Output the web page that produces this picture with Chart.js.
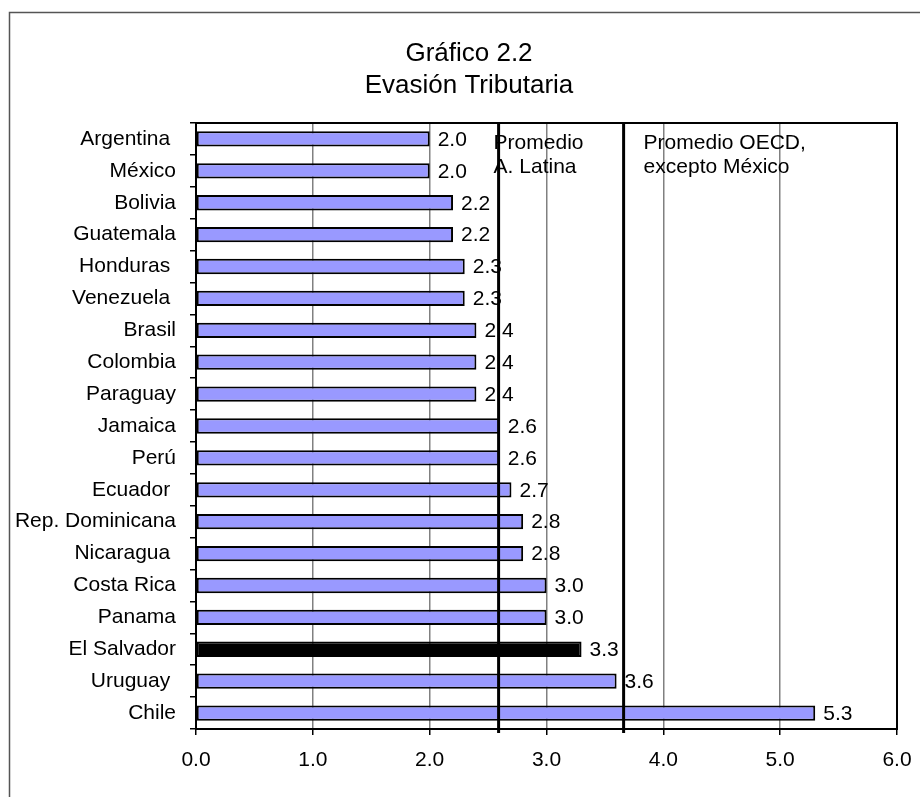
<!DOCTYPE html>
<html>
<head>
<meta charset="utf-8">
<script src="https://cdn.jsdelivr.net/npm/chart.js@4.4.0/dist/chart.umd.min.js"></script>
<style>
  html, body { margin: 0; padding: 0; background: #fff; }
  #wrap { width: 920px; height: 797px; }
</style>
</head>
<body>
<div id="wrap"><canvas id="grafico" width="920" height="797"></canvas></div>
<script>
// datos
const paises = ['Argentina ', 'México', 'Bolivia', 'Guatemala', 'Honduras ', 'Venezuela ', 'Brasil',
  'Colombia', 'Paraguay', 'Jamaica', 'Perú', 'Ecuador ', 'Rep. Dominicana', 'Nicaragua ',
  'Costa Rica', 'Panama', 'El Salvador', 'Uruguay ', 'Chile'];
const evasion = [2.0, 2.0, 2.2, 2.2, 2.3, 2.3, 2.4, 2.4, 2.4, 2.6, 2.6, 2.7, 2.8, 2.8, 3.0, 3.0, 3.3, 3.6, 5.3];
const promedios = [2.59, 3.66];
const promedioTextos = [['Promedio', 'A. Latina'], ['Promedio OECD,', 'excepto México']];
const ticksX = [0, 1, 2, 3, 4, 5, 6];
const titulo = ['Gráfico 2.2', 'Evasión Tributaria'];

const FUENTE = '"Liberation Sans", Arial, sans-serif';

const colores = paises.map(p => p.trim() === 'El Salvador' ? '#000000' : '#9999FF');

// marco, titulo, lineas de promedio y etiquetas de valor
const extras = {
  id: 'extras',
  beforeDraw(chart) {
    const ctx = chart.ctx;
    ctx.save();
    ctx.fillStyle = '#fff';
    ctx.fillRect(0, 0, chart.width, chart.height);
    ctx.strokeStyle = '#555';
    ctx.lineWidth = 1.5;
    ctx.beginPath();
    ctx.moveTo(9.5, chart.height);
    ctx.lineTo(9.5, 12.5);
    ctx.lineTo(chart.width, 12.5);
    ctx.stroke();
    ctx.fillStyle = '#000';
    ctx.font = '26px ' + FUENTE;
    ctx.textAlign = 'center';
    ctx.textBaseline = 'alphabetic';
    ctx.fillText(titulo[0], 469, 61);
    ctx.fillText(titulo[1], 469, 93);
    ctx.restore();
  },
  afterDatasetsDraw(chart) {
    const ctx = chart.ctx;
    const area = chart.chartArea;
    const x = chart.scales.x;
    ctx.save();
    // lineas de promedio
    ctx.strokeStyle = '#000';
    ctx.lineWidth = 3;
    promedios.forEach(v => {
      const px = x.getPixelForValue(v);
      ctx.beginPath();
      ctx.moveTo(px, area.top);
      ctx.lineTo(px, area.bottom + 4);
      ctx.stroke();
    });
    // textos de promedio
    ctx.fillStyle = '#000';
    ctx.font = '21px ' + FUENTE;
    ctx.textBaseline = 'middle';
    ctx.textAlign = 'left';
    ctx.fillText(promedioTextos[0][0], x.getPixelForValue(promedios[0]) - 5, 143);
    ctx.fillText(promedioTextos[0][1], x.getPixelForValue(promedios[0]) - 5, 167);
    ctx.fillText(promedioTextos[1][0], x.getPixelForValue(promedios[1]) + 20, 143);
    ctx.fillText(promedioTextos[1][1], x.getPixelForValue(promedios[1]) + 20, 167);
    // etiquetas de valor
    const meta = chart.getDatasetMeta(0);
    meta.data.forEach((bar, i) => {
      ctx.fillText(evasion[i].toFixed(1), bar.x + 8, bar.y + 1);
    });
    // borde del area
    ctx.lineWidth = 2;
    ctx.strokeRect(area.left, area.top, area.right - area.left, area.bottom - area.top);
    ctx.restore();
  }
};

new Chart(document.getElementById('grafico').getContext('2d'), {
  type: 'bar',
  data: {
    labels: paises,
    datasets: [{
      data: evasion,
      backgroundColor: colores,
      borderColor: '#000',
      borderWidth: 2,
      borderSkipped: false,
      barPercentage: 0.48,
      categoryPercentage: 1.0
    }]
  },
  options: {
    indexAxis: 'y',
    responsive: false,
    animation: false,
    layout: { padding: { top: 123, right: 0, left: 0, bottom: 0 } },
    plugins: {
      legend: { display: false },
      tooltip: { enabled: false },
      title: { display: false }
    },
    scales: {
      x: {
        min: 0,
        max: 6,
        afterBuildTicks: s => { s.ticks = ticksX.map(v => ({ value: v })); },
        afterFit: s => { s.height = 797 - 729; s.paddingRight = 23; },
        ticks: {
          color: '#000',
          font: { size: 21, family: FUENTE },
          padding: 13,
          maxRotation: 0,
          callback: v => Number(v).toFixed(1)
        },
        grid: { color: '#808080', lineWidth: 1.5, tickLength: 6, tickColor: '#000' },
        border: { color: '#000', width: 2 }
      },
      y: {
        afterFit: s => { s.width = 196; },
        ticks: {
          color: '#000',
          font: { size: 21, family: FUENTE },
          padding: 14
        },
        grid: { drawOnChartArea: false, tickLength: 6, color: '#000', lineWidth: 1.5, offset: true },
        border: { color: '#000', width: 2 }
      }
    }
  },
  plugins: [extras]
});
</script>
</body>
</html>
